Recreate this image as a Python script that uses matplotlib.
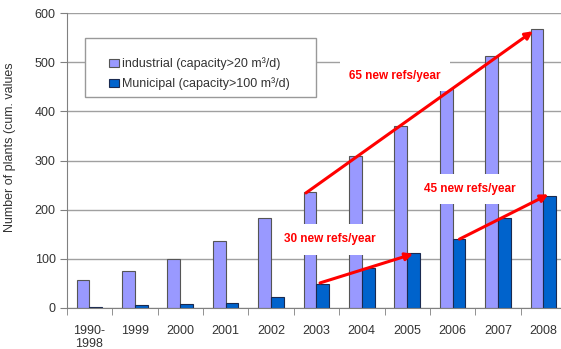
import matplotlib.pyplot as plt
import numpy as np
from matplotlib.patches import Rectangle

plt.rcParams['font.family'] = ['Liberation Sans', 'DejaVu Sans']

# Data
years = ['1990-\n1998', '1999', '2000', '2001', '2002', '2003',
         '2004', '2005', '2006', '2007', '2008']
industrial = [57, 76, 100, 137, 184, 235, 309, 370, 445, 513, 567]
municipal = [3, 6, 9, 11, 23, 48, 81, 111, 140, 184, 228]

# Trend annotations: (label, start (x, y), end (x, y), text position)
trends = [
    ('65 new refs/year', (4.77, 234), (9.77, 563), (6.73, 472)),
    ('30 new refs/year', (5.08, 51), (7.13, 110), (5.3, 140)),
    ('45 new refs/year', (8.15, 140), (10.11, 231), (8.37, 242)),
]

IND_COLOR = '#9999ff'
MUN_COLOR = '#0063cc'
TXT = '#333333'

fig = plt.figure(figsize=(5.61, 3.49), dpi=100)
ax = fig.add_axes([66.7 / 561, 41 / 349, 499.4 / 561, 295 / 349])

x = np.arange(len(years))
w = 0.28
ax.bar(x - w / 2, industrial, w, color=IND_COLOR, edgecolor='#555555', lw=0.8, zorder=2,
       label='industrial (capacity>20 m³/d)')
ax.bar(x + w / 2, municipal, w, color=MUN_COLOR, edgecolor='#1a2a50', lw=0.8, zorder=2,
       label='Municipal (capacity>100 m³/d)')

ax.set_xlim(-0.5, len(years) - 0.5)
ax.set_ylim(0, 600)
ax.set_yticks(range(0, 601, 100))
ax.yaxis.grid(True, color='#a0a0a0', lw=1)
ax.set_axisbelow(True)

# labels at category centres, tick marks between categories
ax.set_xticks(x)
ax.set_xticklabels(years)
ax.set_xticks(np.arange(-0.5, len(years), 1), minor=True)
ax.tick_params(axis='x', which='major', length=0, pad=12, labelsize=9, labelcolor=TXT)
ax.tick_params(axis='x', which='minor', length=5, color='#808080', direction='out')
ax.tick_params(axis='y', length=5, color='#808080', labelsize=9, labelcolor=TXT, pad=3)

for s in ['top', 'right']:
    ax.spines[s].set_visible(False)
for s in ['left', 'bottom']:
    ax.spines[s].set_color('#808080')

fig.text(10 / 561, 1 - 147 / 349, 'Number of plants (cum. values', rotation=90,
         ha='center', va='center', fontsize=9, color=TXT)

# legend box
ax.add_patch(Rectangle((0.037, 0.715), 0.462, 0.2, transform=ax.transAxes,
                       facecolor='white', edgecolor='#999999', lw=1, zorder=3))
leg = ax.legend(loc='upper left', bbox_to_anchor=(0.084, 0.85), frameon=False,
                borderpad=0, borderaxespad=0, fontsize=9, labelspacing=0.6,
                handlelength=0.8, handleheight=0.65, handletextpad=0.25)
leg.set_zorder(4)
for t in leg.get_texts():
    t.set_color(TXT)

for label, start, end, tpos in trends:
    ax.text(tpos[0], tpos[1], label, color='red', fontsize=8.5, fontweight='bold',
            ha='center', va='center', zorder=5,
            bbox=dict(boxstyle='square,pad=0.8', facecolor='white', edgecolor='none'))
    ax.annotate('', xy=end, xytext=start,
                arrowprops=dict(arrowstyle='-|>', color='red', lw=2.2,
                                mutation_scale=11, shrinkA=0, shrinkB=0),
                zorder=6)

fig.savefig('out.png', dpi=100)
